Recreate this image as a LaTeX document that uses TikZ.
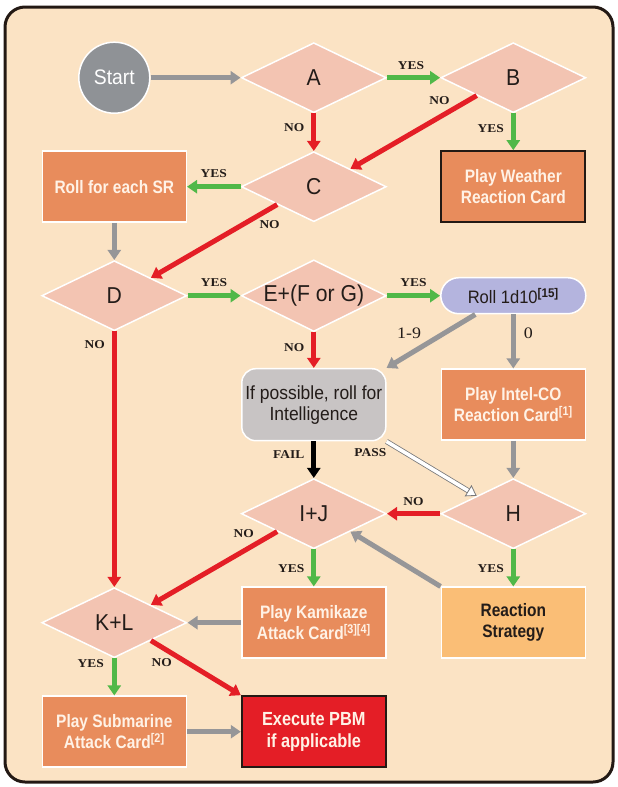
\documentclass[tikz,border=0pt]{standalone}
\usepackage{fontspec}
\setmainfont{Liberation Serif}
\newfontfamily\cardfont[FakeStretch=0.92]{Liberation Sans}
\newfontfamily\narrowcardfont[FakeStretch=0.86]{Liberation Sans}
\newfontfamily\tagfont[FakeStretch=1.12]{Liberation Serif}
\usepackage{tikz}
\usetikzlibrary{arrows.meta,positioning,shapes.geometric}
\definecolor{paper}{RGB}{251,227,196}
\definecolor{framedark}{RGB}{35,25,20}
\definecolor{decisionpink}{RGB}{243,196,178}
\definecolor{cardorange}{RGB}{232,140,92}
\definecolor{strategyorange}{RGB}{250,190,118}
\definecolor{pbmred}{RGB}{228,30,38}
\definecolor{rolllavender}{RGB}{180,180,222}
\definecolor{intelgrey}{RGB}{200,196,196}
\definecolor{startgrey}{RGB}{143,146,150}
\definecolor{yesgreen}{RGB}{80,184,72}
\definecolor{nored}{RGB}{228,30,38}
\definecolor{linkgrey}{RGB}{150,150,152}
\definecolor{cardtext}{RGB}{255,242,230}
\definecolor{inkdark}{RGB}{35,28,25}
\tikzset{
  startnode/.style={circle,draw=white,line width=1.5pt,fill=startgrey,
    minimum size=71pt,inner sep=0pt,text=white,
    font=\cardfont\fontsize{21}{24}\selectfont},
  decision/.style={diamond,shape aspect=2,draw=white,line width=1.5pt,
    fill=decisionpink,minimum width=145pt,minimum height=70pt,inner sep=0pt,
    text=inkdark,font=\cardfont\fontsize{23}{26}\selectfont},
  card/.style={rectangle,draw=white,line width=1.5pt,fill=cardorange,
    minimum width=144pt,minimum height=71pt,align=center,text=cardtext,
    font=\narrowcardfont\bfseries\fontsize{18}{21}\selectfont},
  weathercard/.style={card,draw=framedark,line width=2pt},
  pbmcard/.style={card,fill=pbmred,draw=framedark,line width=2pt,
    font=\narrowcardfont\bfseries\fontsize{19}{21.5}\selectfont},
  strategycard/.style={card,fill=strategyorange,text=inkdark},
  rollpill/.style={rectangle,rounded corners=18pt,draw=white,line width=1.5pt,
    fill=rolllavender,minimum width=145pt,minimum height=36pt,text=inkdark,
    font=\cardfont\fontsize{18}{21}\selectfont},
  intelbox/.style={rectangle,rounded corners=14pt,draw=white,line width=1.5pt,
    fill=intelgrey,minimum width=144pt,minimum height=72pt,align=center,
    text=inkdark,font=\cardfont\fontsize{19}{21}\selectfont},
  yesflow/.style={-{Triangle[length=10pt,width=13pt]},line width=5pt,draw=yesgreen},
  noflow/.style={-{Triangle[length=10pt,width=13pt]},line width=5pt,draw=nored},
  greyflow/.style={-{Triangle[length=10pt,width=13pt]},line width=5pt,draw=linkgrey},
  failflow/.style={-{Triangle[length=10pt,width=13pt]},line width=5pt,draw=black},
  passflow/.style={draw=white,line width=3.6pt,
    -{Triangle[length=10pt,width=13pt,fill=white,color=linkgrey!80!black,line width=0.8pt]},
    preaction={draw=linkgrey!80!black,line width=5.2pt,-,shorten >=9pt}},
  tag/.style={font=\tagfont\bfseries\fontsize{12}{14}\selectfont,inner sep=1pt,text=inkdark},
  numtag/.style={font=\tagfont\fontsize{16}{18}\selectfont,inner sep=1pt,text=inkdark}
}
\begin{document}
\begin{tikzpicture}[x=1pt,y=1pt,node distance=109pt and 199.5pt,on grid]
  \fill[white] (0,0) rectangle (618,-787);
  \useasboundingbox (0,0) rectangle (618,-787);
  \draw[framedark,line width=3pt,rounded corners=20pt,fill=paper] (5,-7) rectangle (613,-782);

  \node[startnode] (start) at (114.3,-77.7) {Start};
  \node[decision,right=of start] (a) {A};
  \node[decision,right=of a] (b) {B};
  \node[decision,below=of a] (c) {C};
  \node[card,left=of c] (sr) {Roll for each SR};
  \node[weathercard,below=of b] (weather) {Play Weather\\Reaction Card};
  \node[decision,below=of sr] (d) {D};
  \node[decision,below=of c] (e) {E+(F or G)};
  \node[rollpill,below=of weather] (roll) {Roll 1d10\textsuperscript{\bfseries[15]}};
  \node[intelbox,below=of e] (intel) {If possible, roll for\\Intelligence};
  \node[card,below=of roll] (intelco) {Play Intel-CO\\Reaction Card\textsuperscript{[1]}};
  \node[decision,below=of intel] (ij) {I+J};
  \node[decision,below=of intelco] (h) {H};
  \node[card,below=of ij] (kamikaze) {Play Kamikaze\\Attack Card\textsuperscript{[3][4]}};
  \node[strategycard,below=of h] (strategy) {Reaction\\Strategy};
  \node[decision,left=of kamikaze] (kl) {K+L};
  \node[card,below=of kl] (sub) {Play Submarine\\Attack Card\textsuperscript{[2]}};
  \node[pbmcard,below=of kamikaze] (pbm) {Execute PBM\\if applicable};

  \draw[greyflow] (start) -- (a);
  \draw[yesflow] (a) -- node[tag,pos=0.45,above=5pt] {YES} (b);
  \draw[noflow] (a) -- node[tag,pos=0.38,left=6pt] {NO} (c);
  \draw[noflow] (b.south west) -- node[tag,pos=0.18,above left=1pt and 1pt] {NO} (c.north east);
  \draw[yesflow] (b) -- node[tag,pos=0.4,left=6pt] {YES} (weather);
  \draw[yesflow] (c) -- node[tag,midway,above=6pt] {YES} (sr);
  \draw[noflow] (c.south west) -- node[tag,pos=0.06,below=8pt] {NO} (d.north east);
  \draw[greyflow] (sr) -- (d);
  \draw[yesflow] (d) -- node[tag,midway,above=6pt] {YES} (e);
  \draw[yesflow] (e) -- node[tag,midway,above=6pt] {YES} (roll);
  \draw[noflow] (e) -- node[tag,pos=0.42,left=6pt] {NO} (intel);
  \draw[greyflow] ([xshift=-38pt]roll.south) -- node[numtag,pos=0.55,above left=2pt and 2pt] {1-9} (intel.north east);
  \draw[greyflow] (roll) -- node[numtag,pos=0.34,right=7pt] {0} (intelco);
  \draw[failflow] (intel) -- node[tag,pos=0.36,left=6pt] {FAIL} (ij);
  \draw[passflow] (intel.south east) -- node[tag,pos=0.05,below left=2pt and 2pt] {PASS} (h.north west);
  \draw[greyflow] (intelco) -- (h);
  \draw[noflow] (h) -- node[tag,midway,above=5pt] {NO} (ij);
  \draw[yesflow] (h) -- node[tag,pos=0.52,left=6pt] {YES} (strategy);
  \draw[greyflow] (strategy.north west) -- (ij.south east);
  \draw[yesflow] (ij) -- node[tag,pos=0.52,left=6pt] {YES} (kamikaze);
  \draw[noflow] (ij.south west) -- node[tag,pos=0.15,above left=1pt and 1pt] {NO} (kl.north east);
  \draw[greyflow] (kamikaze) -- (kl);
  \draw[noflow] (d) -- node[tag,pos=0.05,left=6pt] {NO} (kl);
  \draw[yesflow] (kl) -- node[tag,pos=0.15,left=7pt] {YES} (sub);
  \draw[noflow] (kl.south east) -- node[tag,pos=0.12,below=8pt] {NO} (pbm.north west);
  \draw[greyflow] (sub) -- (pbm);
\end{tikzpicture}
\end{document}
